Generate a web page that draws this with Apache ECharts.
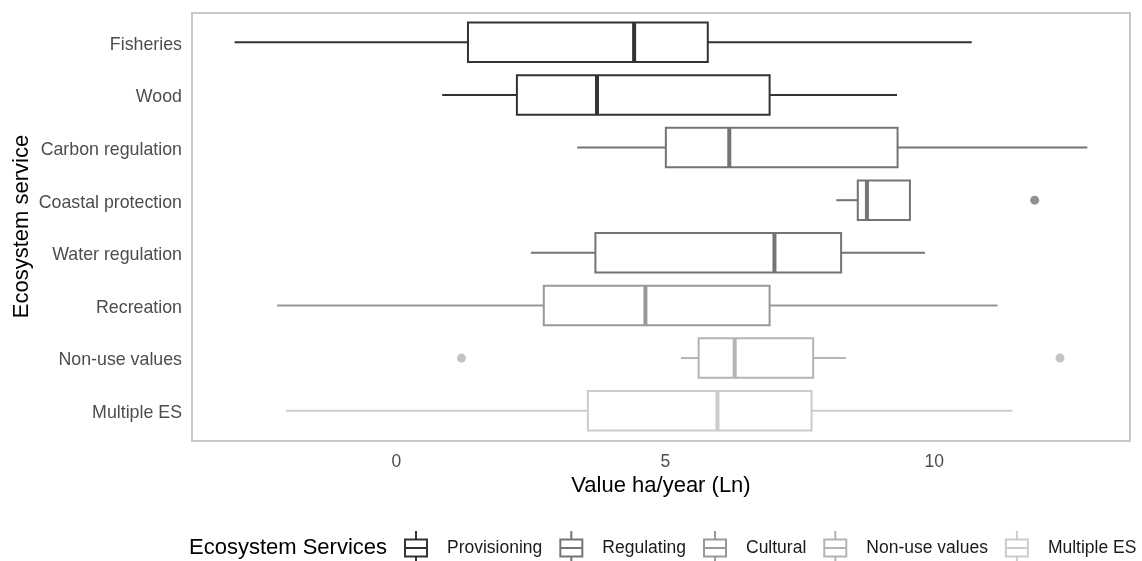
<!DOCTYPE html>
<html>
<head>
<meta charset="utf-8">
<script src="https://cdn.jsdelivr.net/npm/echarts@6/dist/echarts.min.js"></script>
<style>
  html, body { margin: 0; padding: 0; background: #ffffff; }
  #chart { width: 1142px; height: 561px; }
</style>
</head>
<body>
<div id="chart"></div>
<script>
// Ecosystem services, one row each (top to bottom)
const categories = ['Fisheries', 'Wood', 'Carbon regulation', 'Coastal protection',
  'Water regulation', 'Recreation', 'Non-use values', 'Multiple ES'];
const serviceGroup = ['Provisioning', 'Provisioning', 'Regulating', 'Regulating',
  'Regulating', 'Cultural', 'Non-use values', 'Multiple ES'];

// Legend groups and their grey shades
const groups = ['Provisioning', 'Regulating', 'Cultural', 'Non-use values', 'Multiple ES'];
const groupColors = ['#333333', '#747474', '#989898', '#b4b4b4', '#cccccc'];

// Box statistics, value ha/year (Ln)
const whiskerLow  = [-3.01, 0.85, 3.36, 8.18, 2.50, -2.22, 5.29, -2.05];
const quartile1   = [1.33, 2.24, 5.01, 8.58, 3.70, 2.74, 5.62, 3.56];
const median      = [4.42, 3.73, 6.19, 8.75, 7.03, 4.63, 6.29, 5.97];
const quartile3   = [5.79, 6.94, 9.32, 9.55, 8.27, 6.94, 7.75, 7.72];
const whiskerHigh = [10.70, 9.31, 12.85, 9.55, 9.83, 11.18, 8.36, 11.46];

// Outlying observations
const outlierCategory = ['Coastal protection', 'Non-use values', 'Non-use values'];
const outlierValue = [11.87, 1.21, 12.34];

// Tick labels on the value axis
const xTicks = [0, 5, 10];

const FONT = "'Liberation Sans', Arial, Helvetica, sans-serif";

// Value axis limits with a 5% expansion on both sides
const allValues = whiskerLow.concat(whiskerHigh, outlierValue);
const vMin = Math.min.apply(null, allValues);
const vMax = Math.max.apply(null, allValues);
const pad = (vMax - vMin) * 0.05;

function renderBox(params, api) {
  const cat = api.value(0);
  const lo = api.coord([api.value(1), cat]);
  const q1 = api.coord([api.value(2), cat]);
  const md = api.coord([api.value(3), cat]);
  const q3 = api.coord([api.value(4), cat]);
  const hi = api.coord([api.value(5), cat]);
  const h = api.size([0, 1])[1] * 0.75;
  const y = q1[1];
  const color = api.visual('color');
  return {
    type: 'group',
    children: [
      { type: 'line', shape: { x1: lo[0], y1: y, x2: q1[0], y2: y },
        style: { stroke: color, lineWidth: 2 } },
      { type: 'line', shape: { x1: q3[0], y1: y, x2: hi[0], y2: y },
        style: { stroke: color, lineWidth: 2 } },
      { type: 'rect', shape: { x: q1[0], y: y - h / 2, width: q3[0] - q1[0], height: h },
        style: { fill: '#ffffff', stroke: color, lineWidth: 2 } },
      { type: 'line', shape: { x1: md[0], y1: y - h / 2, x2: md[0], y2: y + h / 2 },
        style: { stroke: color, lineWidth: 4 } }
    ]
  };
}

const series = [];
groups.forEach(function (g, gi) {
  const rows = [];
  categories.forEach(function (c, i) {
    if (serviceGroup[i] === g) {
      rows.push([c, whiskerLow[i], quartile1[i], median[i], quartile3[i], whiskerHigh[i]]);
    }
  });
  series.push({
    name: g,
    type: 'custom',
    xAxisIndex: 0,
    yAxisIndex: 0,
    renderItem: renderBox,
    encode: { y: 0, x: [1, 2, 3, 4, 5] },
    itemStyle: { color: groupColors[gi] },
    data: rows,
    z: 2
  });
  const pts = [];
  outlierCategory.forEach(function (c, k) {
    if (serviceGroup[categories.indexOf(c)] === g) pts.push([outlierValue[k], c]);
  });
  if (pts.length) {
    series.push({
      name: g,
      type: 'scatter',
      xAxisIndex: 0,
      yAxisIndex: 0,
      symbol: 'circle',
      symbolSize: 9,
      itemStyle: { color: groupColors[gi] },
      data: pts,
      z: 3
    });
  }
});

const legendIcon = 'path://M11,0L11,8.5M0,8.5L22,8.5L22,25.5L0,25.5ZM0,17L22,17M11,25.5L11,34';

const chart = echarts.init(document.getElementById('chart'), null, { renderer: 'canvas' });
chart.setOption({
  backgroundColor: '#ffffff',
  animation: false,
  textStyle: { fontFamily: FONT },
  title: {
    text: 'Ecosystem Services',
    left: 189,
    top: 537,
    padding: 0,
    textStyle: { fontFamily: FONT, fontSize: 22, fontWeight: 'normal', color: '#000000' }
  },
  legend: {
    left: 404,
    top: 530,
    orient: 'horizontal',
    itemWidth: 22,
    itemHeight: 34,
    itemGap: 17,
    padding: 0,
    selectedMode: false,
    textStyle: { fontFamily: FONT, fontSize: 17.5, color: '#1a1a1a', padding: [0, 0, 0, 15] },
    data: groups.map(function (g, gi) {
      return {
        name: g,
        icon: legendIcon,
        itemStyle: { color: '#ffffff', borderColor: groupColors[gi], borderWidth: 2 }
      };
    })
  },
  grid: [
    { left: 192, right: 12, top: 16, bottom: 124, containLabel: false, outerBoundsMode: 'none' },
    { left: 192, right: 12, top: 13, bottom: 120, outerBoundsMode: 'none', show: true,
      backgroundColor: 'transparent', borderColor: '#c8c8c8', borderWidth: 2, z: 0 }
  ],
  xAxis: [
    {
      type: 'value',
      gridIndex: 0,
      min: vMin - pad,
      max: vMax + pad,
      axisLine: { show: false },
      axisTick: { show: false },
      splitLine: { show: false },
      axisLabel: {
        customValues: xTicks,
        margin: 16,
        fontFamily: FONT,
        fontSize: 17.5,
        color: '#4d4d4d'
      },
      name: 'Value ha/year (Ln)',
      nameLocation: 'middle',
      nameGap: 38,
      nameMoveOverlap: false,
      nameTextStyle: { fontFamily: FONT, fontSize: 22, color: '#000000' }
    },
    { type: 'value', gridIndex: 1, show: false, min: 0, max: 1 }
  ],
  yAxis: [
    {
      type: 'category',
      gridIndex: 0,
      data: categories,
      inverse: true,
      axisLine: { show: false },
      axisTick: { show: false },
      splitLine: { show: false },
      axisLabel: {
        margin: 10,
        fontFamily: FONT,
        fontSize: 17.8,
        color: '#4d4d4d',
        formatter: function (v) { return '{l|' + v + '}'; },
        rich: { l: { fontFamily: FONT, fontSize: 17.8, color: '#4d4d4d', padding: [5, 0, 0, 0] } }
      },
      name: 'Ecosystem service',
      nameLocation: 'middle',
      nameGap: 159,
      nameMoveOverlap: false,
      nameTextStyle: { fontFamily: FONT, fontSize: 22, color: '#000000' }
    },
    { type: 'value', gridIndex: 1, show: false, min: 0, max: 1 }
  ],
  series: series
});
</script>
</body>
</html>
